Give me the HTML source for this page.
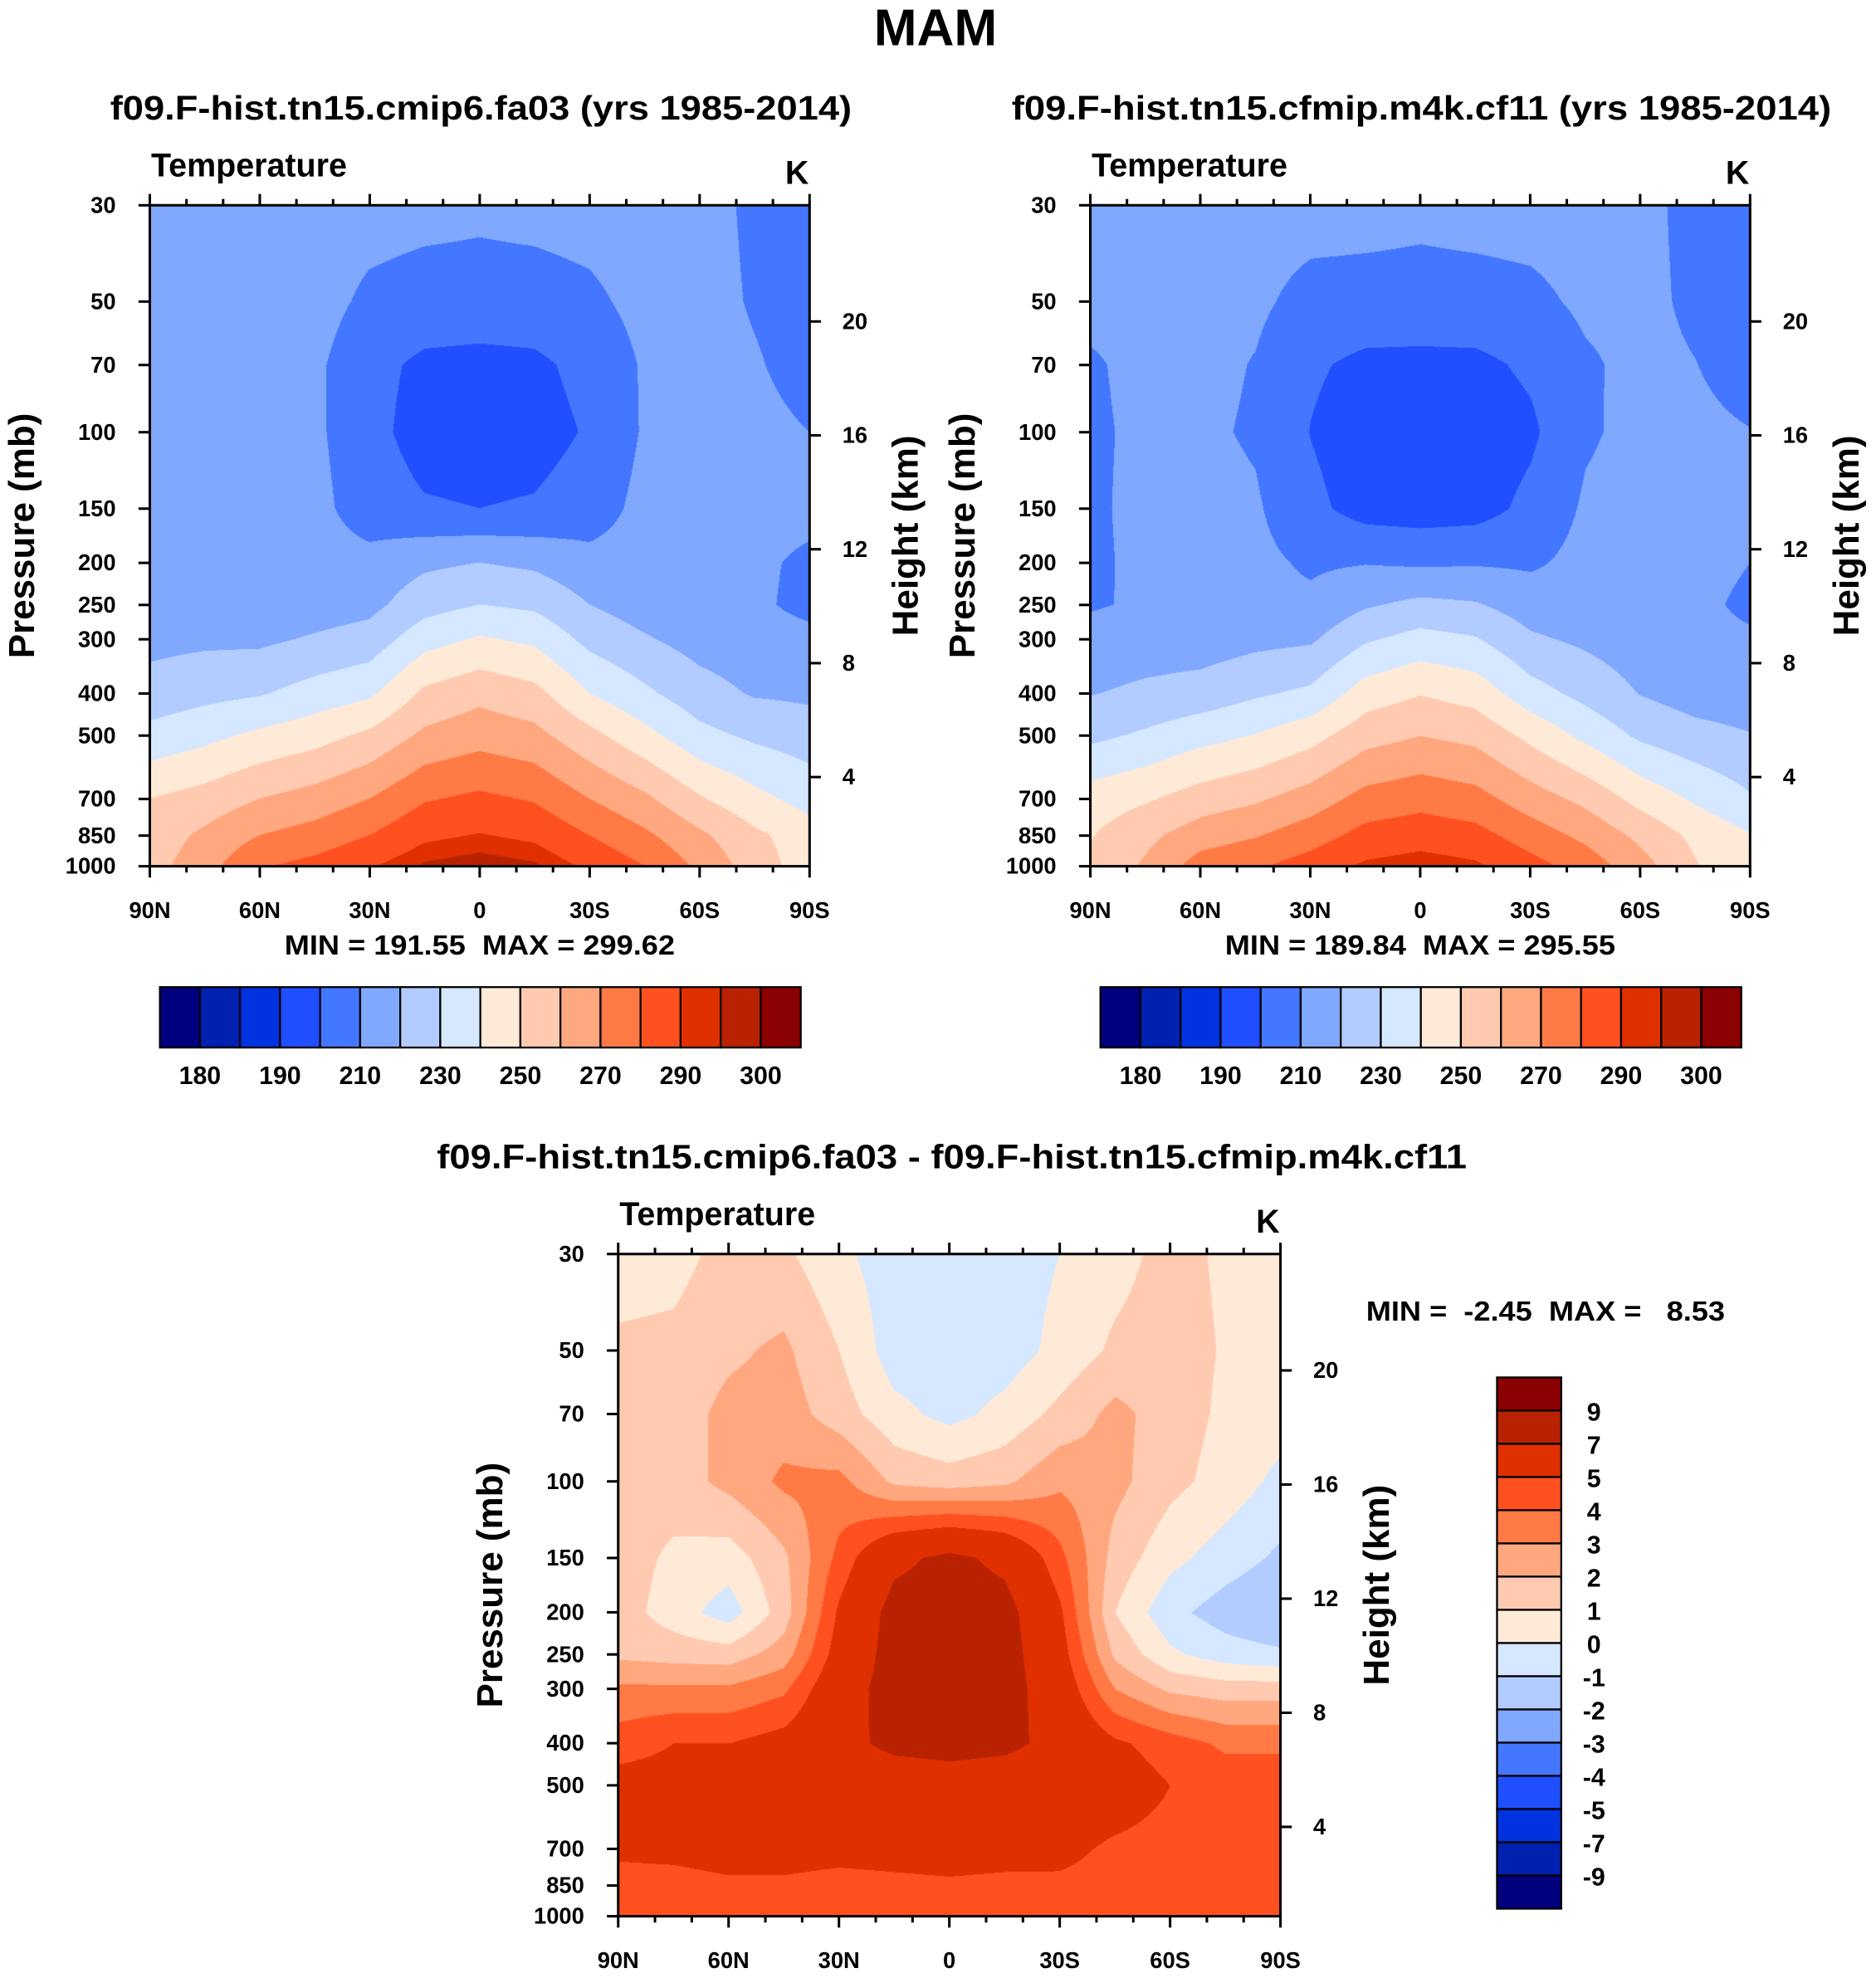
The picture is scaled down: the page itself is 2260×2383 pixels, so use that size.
<!DOCTYPE html>
<html><head><meta charset="utf-8"><style>
html,body{margin:0;padding:0;background:#fff}
#wrap{position:relative;width:2260px;height:2383px;overflow:hidden}
canvas{position:absolute}
svg{position:absolute;left:0;top:0}
text{font-family:"Liberation Sans",sans-serif;font-weight:bold;fill:#000;white-space:pre}
</style></head><body>
<div id="wrap">
<canvas id="c1"></canvas>
<canvas id="c2"></canvas>
<canvas id="c3"></canvas>
<svg id="svg" width="2260" height="2383" viewBox="0 0 1490 1571"></svg>
</div>
<script>
// ---- data ----
const pLevels = [30,50,70,100,150,200,250,300,400,500,700,850,1000];
const lats = [90,75,60,45,30,15,0,-15,-30,-45,-60,-75,-90];
const colors16 = ["#00007f","#0020b0","#0033e0","#1f4fff","#4477ff","#80a8ff","#b3ccff","#d6e8ff","#ffead8","#ffcab0","#ffa880","#ff7a45","#ff5020","#e03000","#b82200","#8b0000"];
const tempLevels = [180,185,190,200,210,220,230,240,250,260,270,280,290,295,300];
const diffLevels = [-9,-7,-5,-4,-3,-2,-1,0,1,2,3,4,5,7,9];
const tempLabels = ["180","190","210","230","250","270","290","300"];
const diffLabels = ["9","7","5","4","3","2","1","0","-1","-2","-3","-4","-5","-7","-9"];
const pTickLabels = ["30","50","70","100","150","200","250","300","400","500","700","850","1000"];
const zTicks = [4,8,12,16,20];
const latTickLabels = ["90N","60N","30N","0","30S","60S","90S"];
const T1 = [
[215,215,215,215,214,213,212,213,214,215,214,208,204],
[215,215,215,214,208,206,206,206,208,213,214,209,205],
[215,215,215,212,203,198,197,198,203,211,214,211,206],
[214,214,214,212,203,196,195,196,201,211,214,213,210],
[214,214,214,213,205,201,200,201,205,213,214,214,213],
[213,213,214,214,213,218,220,218,213,214,214,212,208],
[213,213,214,215,217,226,230,228,220,215,214,212,207],
[217,218,218,221,224,236,241,238,227,221,216,214,213],
[224,227,229,234,238,252,257,253,240,232,224,219,218],
[233,237,242,246,252,262,266,263,253,243,233,228,225],
[250,254,260,264,270,279,282,279,270,262,251,243,236],
[254,262,270,274,280,288,290.5,288,280,272,262,252,245],
[256,266,279,283,289,296,298.5,296,288,280,268,255,245]];
const T2 = [
[214.5,214.4,213.6,213.8,213.8,213.5,212.4,213.5,214,214.4,212.6,207.2,203.4],
[213.8,213.7,213.2,211.8,207,206.5,206.5,206.5,207.7,211.8,212.5,208.1,204.5],
[208.5,213.5,212.7,209.5,201.5,197.7,197.3,197.7,201.7,208.7,212.5,210.2,205.5],
[208,212.5,211.7,208.8,199.7,194.2,193.5,194.2,198.2,208.7,212.7,212.4,210.3],
[208,213.2,213.5,211.2,202.5,196,195,196,202.5,211.4,213.7,214.5,214.2],
[208,212.5,214.5,212.5,208.5,209.5,208.5,209,208.5,213,214.7,213.5,210],
[209,211.4,212.5,212.5,212,218.8,222.4,220.8,215,213.2,213.8,212.5,207.8],
[213.8,214.8,214.8,217.2,218.5,228.7,233.4,230.7,221.5,218,214.2,212.5,211.5],
[219.5,222,224,228.5,232,244.8,249.5,245.8,234,226.8,219.5,215.2,214.2],
[227.5,231.5,236.4,240.3,246.2,256,259.8,257,247.2,237.3,228,223.4,220.4],
[244.8,248.7,254.5,258.5,264.6,273.5,276.4,273.5,264.7,257.2,246.4,238.4,231],
[249.4,257.4,265.2,269.2,275.4,283.3,285.7,283.3,275.2,267.4,257.5,247.5,240.5],
[251.5,261.5,274.5,278.5,284.5,291.5,294,291.4,283.5,275.5,263.8,250.8,240.8]];
const D = [
[0.5,0.6,1.4,1.2,0.2,-0.5,-0.4,-0.5,0.0,0.6,1.4,0.8,0.6],
[1.2,1.3,1.8,2.2,1.0,-0.5,-0.5,-0.5,0.3,1.2,1.5,0.9,0.5],
[1.4,1.5,2.3,2.5,1.5,0.3,-0.3,0.3,1.3,2.3,1.5,0.8,0.5],
[1.4,1.5,2.3,3.2,3.3,1.8,1.5,1.8,2.8,2.3,1.3,0.6,-0.3],
[1.5,0.8,0.5,1.8,4.3,6.6,7.4,6.6,4.3,1.6,0.3,-0.5,-1.2],
[1.5,0.5,-0.5,1.5,5.2,7.6,7.8,7.6,5.2,1.0,-0.7,-1.5,-2.0],
[1.8,1.6,1.5,2.5,5.6,7.7,7.8,7.7,5.6,1.8,0.2,-0.5,-0.8],
[3.2,3.2,3.2,3.8,6.2,7.7,7.8,7.7,6.0,3.0,1.8,1.5,1.5],
[4.5,5.0,5.0,5.5,6.5,7.4,7.6,7.4,6.5,5.2,4.5,3.8,3.8],
[5.5,5.5,5.6,5.7,5.8,6.0,6.2,6.0,5.8,5.7,5.0,4.6,4.6],
[5.2,5.3,5.5,5.5,5.4,5.5,5.6,5.5,5.3,4.8,4.6,4.6,5.0],
[4.6,4.6,4.8,4.8,4.6,4.7,4.8,4.7,4.8,4.6,4.5,4.5,4.5],
[4.5,4.5,4.5,4.5,4.5,4.5,4.5,4.6,4.5,4.5,4.2,4.2,4.2]];

// ---- layout ----
const S = 2260/1490;
const NS = "http://www.w3.org/2000/svg";
const svg = document.getElementById('svg');
const P1 = {x:119,y:163,w:524,h:525};
const P2 = {x:866,y:163,w:524,h:525};
const P3 = {x:491,y:996,w:526,h:526};
function yOfP(P,p){return P.y + Math.log(p/30)/Math.log(1000/30)*P.h;}
function xOfLat(P,lat){return P.x + (90-lat)/180*P.w;}
function yOfZ(P,z){return yOfP(P,1140*Math.exp(-z/6.62));}
function el(tag,attrs,parent){const e=document.createElementNS(NS,tag);for(const k in attrs)e.setAttribute(k,attrs[k]);(parent||svg).appendChild(e);return e;}
function txt(s,x,y,size,anchor,extra){const t=el('text',Object.assign({x:x,y:y,'font-size':size,'text-anchor':anchor||'start'},extra||{}));t.textContent=s;return t;}
function levelIndex(v,levels){let i=0;while(i<levels.length&&v>=levels[i])i++;return i;}

function drawField(id,P,grid,levels){
  const c=document.getElementById(id);
  const L=Math.round(P.x*S),T=Math.round(P.y*S),W=Math.round(P.w*S),H=Math.round(P.h*S);
  c.style.left=L+'px';c.style.top=T+'px';c.width=W;c.height=H;
  const ctx=c.getContext('2d');const img=ctx.createImageData(W,H);
  const rgb=colors16.map(h=>[parseInt(h.substr(1,2),16),parseInt(h.substr(3,2),16),parseInt(h.substr(5,2),16)]);
  const lnP=pLevels.map(p=>Math.log(p));
  for(let j=0;j<H;j++){
    const lp=Math.log(30)+(j+0.5)/H*Math.log(1000/30);
    let r=0;while(r<pLevels.length-2&&lp>lnP[r+1])r++;
    const fr=Math.min(1,Math.max(0,(lp-lnP[r])/(lnP[r+1]-lnP[r])));
    for(let i=0;i<W;i++){
      const lat=90-(i+0.5)/W*180;
      let cx=(90-lat)/15;let ci=Math.min(lats.length-2,Math.floor(cx));const fc=cx-ci;
      const v=(grid[r][ci]*(1-fc)+grid[r][ci+1]*fc)*(1-fr)+(grid[r+1][ci]*(1-fc)+grid[r+1][ci+1]*fc)*fr;
      const k=levelIndex(v,levels);const o=(j*W+i)*4;
      img.data[o]=rgb[k][0];img.data[o+1]=rgb[k][1];img.data[o+2]=rgb[k][2];img.data[o+3]=255;
    }
  }
  ctx.putImageData(img,0,0);
}

function drawAxes(P){
  const g=el('g',{});
  
  
  el('rect',{x:P.x,y:P.y,width:P.w,height:P.h,fill:'none',stroke:'#000','stroke-width':2},g);
  const fs=18;
  pTickLabels.forEach((lab,i)=>{
    const y=yOfP(P,pLevels[i]);
    el('line',{x1:P.x-9,x2:P.x,y1:y,y2:y,stroke:'#000','stroke-width':2},g);
    const t=txt(lab,P.x-27,y+6,fs,'end');
    
    
  });
  zTicks.forEach(z=>{
    const y=yOfZ(P,z);
    el('line',{x1:P.x+P.w,x2:P.x+P.w+9,y1:y,y2:y,stroke:'#000','stroke-width':2},g);
    const t=txt(String(z),P.x+P.w+26,y+6,fs,'start');
    
    
  });
  for(let lat=90;lat>=-90;lat-=10){
    const x=xOfLat(P,lat);const major=(lat%30===0);const len=major?9:5;
    el('line',{x1:x,x2:x,y1:P.y-len,y2:P.y,stroke:'#000','stroke-width':2},g);
    el('line',{x1:x,x2:x,y1:P.y+P.h,y2:P.y+P.h+len,stroke:'#000','stroke-width':2},g);
  }
  latTickLabels.forEach((lab,i)=>{
    const t=txt(lab,xOfLat(P,90-30*i),P.y+P.h+41,fs,'middle');
    
    
  });
  const a=txt('Temperature',P.x+1,P.y-23,26,'start');
  
  
  const k=txt('K',P.x+P.w-10,P.y-17,26,'middle');
  
  
  const yl=txt('Pressure (mb)',0,0,29,'middle',{transform:`translate(${P.x-92},${P.y+P.h/2}) rotate(-90)`});
  
  
  const yr=txt('Height (km)',0,0,29,'middle',{transform:`translate(${P.x+P.w+86},${P.y+P.h/2}) rotate(-90)`});
  
  
}

function hColorbar(x0,y0,w,h,name){
  const g=el('g',{});
  
  
  const bw=w/16;
  colors16.forEach((c,i)=>{el('rect',{x:x0+i*bw,y:y0,width:bw,height:h,fill:c,stroke:'#000','stroke-width':1.5},g);});
  tempLabels.forEach((lab,i)=>{
    const t=txt(lab,x0+(2*i+1)*bw,y0+h+29,20,'middle');
    
    
  });
}
function vColorbar(x0,y0,w,h){
  const g=el('g',{});
  
  
  const bh=h/16;
  colors16.slice().reverse().forEach((c,i)=>{el('rect',{x:x0,y:y0+i*bh,width:w,height:bh,fill:c,stroke:'#000','stroke-width':1.5},g);});
  diffLabels.forEach((lab,i)=>{
    const t=txt(lab,x0+w+26,y0+(i+1)*bh+8,20,'middle');
    
    
  });
}

drawField('c1',P1,T1,tempLevels);
drawField('c2',P2,T2,tempLevels);
drawField('c3',P3,D,diffLevels);
drawAxes(P1);drawAxes(P2);drawAxes(P3);

let t;
t=txt('MAM',743,36,41,'middle');


t=txt('f09.F-hist.tn15.cmip6.fa03 (yrs 1985-2014)',382,95,27,'middle',{textLength:589,lengthAdjust:'spacingAndGlyphs'});


t=txt('f09.F-hist.tn15.cfmip.m4k.cf11 (yrs 1985-2014)',1129,95,27,'middle',{textLength:651,lengthAdjust:'spacingAndGlyphs'});


t=txt('f09.F-hist.tn15.cmip6.fa03 - f09.F-hist.tn15.cfmip.m4k.cf11',756,928,27,'middle',{textLength:818,lengthAdjust:'spacingAndGlyphs'});


t=txt('MIN = 191.55  MAX = 299.62',381,758,22,'middle',{textLength:310,lengthAdjust:'spacingAndGlyphs'});


t=txt('MIN = 189.84  MAX = 295.55',1128,758,22,'middle',{textLength:310,lengthAdjust:'spacingAndGlyphs'});


t=txt('MIN =  -2.45  MAX =   8.53',1085,1049,22,'start',{textLength:285,lengthAdjust:'spacingAndGlyphs'});


hColorbar(127,784,509,48,'panel1-colorbar');
hColorbar(874,784,509,48,'panel2-colorbar');
vColorbar(1189,1094,51,422);
</script>
</body></html>
